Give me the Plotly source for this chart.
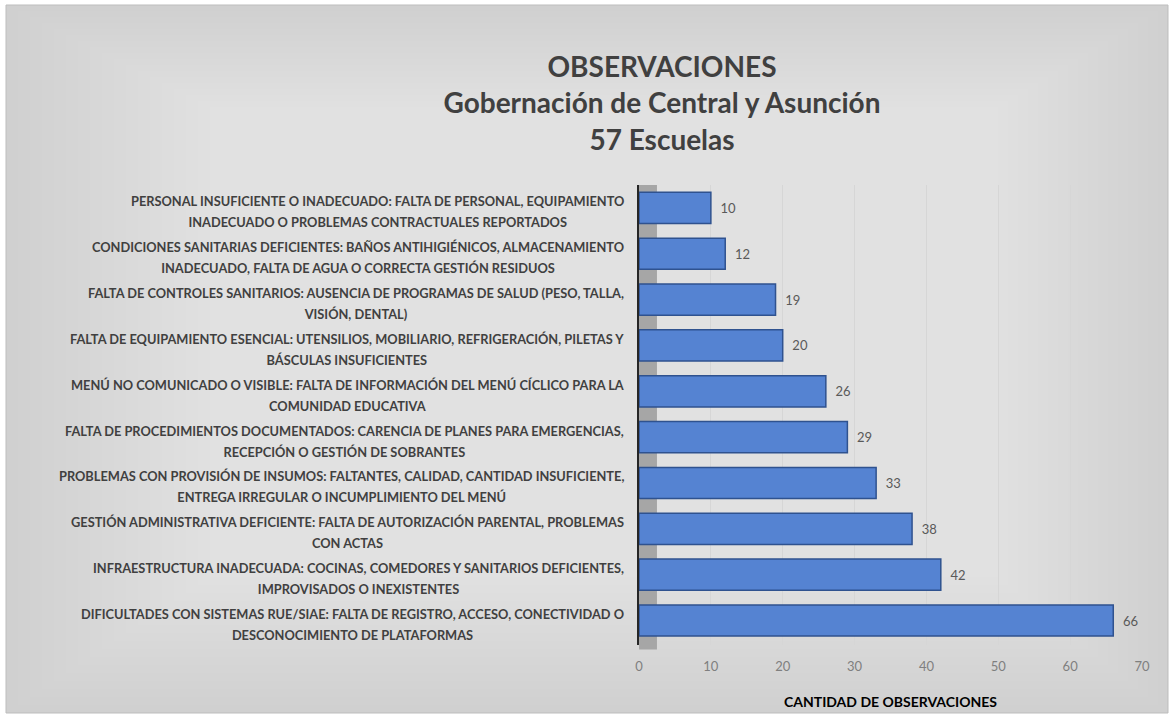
import plotly.graph_objects as go

# categories (bottom -> top, as plotted)
categorias = [
    "DIFICULTADES CON SISTEMAS RUE/SIAE: FALTA DE REGISTRO, ACCESO, CONECTIVIDAD O<br>DESCONOCIMIENTO DE PLATAFORMAS",
    "INFRAESTRUCTURA INADECUADA: COCINAS, COMEDORES Y SANITARIOS DEFICIENTES,<br>IMPROVISADOS O INEXISTENTES",
    "GESTIÓN ADMINISTRATIVA DEFICIENTE: FALTA DE AUTORIZACIÓN PARENTAL, PROBLEMAS<br>CON ACTAS",
    "PROBLEMAS CON PROVISIÓN DE INSUMOS: FALTANTES, CALIDAD, CANTIDAD INSUFICIENTE,<br>ENTREGA IRREGULAR O INCUMPLIMIENTO DEL MENÚ",
    "FALTA DE PROCEDIMIENTOS DOCUMENTADOS: CARENCIA DE PLANES PARA EMERGENCIAS,<br>RECEPCIÓN O GESTIÓN DE SOBRANTES",
    "MENÚ NO COMUNICADO O VISIBLE: FALTA DE INFORMACIÓN DEL MENÚ CÍCLICO PARA LA<br>COMUNIDAD EDUCATIVA",
    "FALTA DE EQUIPAMIENTO ESENCIAL: UTENSILIOS, MOBILIARIO, REFRIGERACIÓN, PILETAS Y<br>BÁSCULAS INSUFICIENTES",
    "FALTA DE CONTROLES SANITARIOS: AUSENCIA DE PROGRAMAS DE SALUD (PESO, TALLA,<br>VISIÓN, DENTAL)",
    "CONDICIONES SANITARIAS DEFICIENTES: BAÑOS ANTIHIGIÉNICOS, ALMACENAMIENTO<br>INADECUADO, FALTA DE AGUA O CORRECTA GESTIÓN RESIDUOS",
    "PERSONAL INSUFICIENTE O INADECUADO: FALTA DE PERSONAL, EQUIPAMIENTO<br>INADECUADO O PROBLEMAS CONTRACTUALES REPORTADOS",
]
cantidades = [66, 42, 38, 33, 29, 26, 20, 19, 12, 10]
x_ticks = [0, 10, 20, 30, 40, 50, 60, 70]

titulo = "OBSERVACIONES<br>Gobernación de Central y Asunción<br>57 Escuelas"
titulo_x = "CANTIDAD DE OBSERVACIONES"

FONT = "Lato, 'Open Sans', sans-serif"
W, H = 1170, 718
ML, MR, MT, MB = 639, 28, 185, 73


def px_to_paper(x, y):
    return (x - ML) / (W - ML - MR), (H - MB - y) / (H - MT - MB)


fig = go.Figure()

fig.add_trace(go.Bar(
    x=cantidades,
    y=categorias,
    orientation="h",
    marker=dict(color="#5583d2", line=dict(color="#2f528f", width=1.5)),
    text=cantidades,
    texttemplate="  %{text}",
    textposition="outside",
    textfont=dict(family=FONT, size=13, color="#595959"),
    cliponaxis=False,
))

# category labels: centred lines, wider line spacing than plotly's default
def label_html(c):
    return "<br>".join(
        f"<span style='font-size:12.8px'>{line}</span>" for line in c.split("<br>")
    )


annotations = [
    dict(
        x=0, y=c, xref="x", yref="y",
        text=label_html(c), showarrow=False,
        xanchor="right", yanchor="middle", align="center",
        xshift=-13, yshift=-4,
        font=dict(family=FONT, size=16, color="#404040", weight="bold"),
    )
    for c in categorias
]

# background: white frame, grey card, soft radial highlight
shapes = []
x0, y1 = px_to_paper(0, 0)
x1, y0 = px_to_paper(W, H)
shapes.append(dict(type="rect", xref="paper", yref="paper", layer="below",
                   x0=x0, x1=x1, y0=y0, y1=y1,
                   fillcolor="white", line=dict(width=0)))
cx0, cy1 = px_to_paper(6, 5)
cx1, cy0 = px_to_paper(W - 2, H - 5)
shapes.append(dict(type="rect", xref="paper", yref="paper", layer="below",
                   x0=cx0, x1=cx1, y0=cy0, y1=cy1,
                   fillcolor="#d0d0d0", line=dict(color="#bdbdbd", width=1)))
for k in range(1, 41):
    gx0, gy1 = px_to_paper(6 + 12 * k, 5 + 6 * k)
    gx1, gy0 = px_to_paper(W - 2 - 10 * k, H - 5 - 8 * k)
    shapes.append(dict(type="rect", xref="paper", yref="paper", layer="below",
                       x0=gx0, x1=gx1, y0=gy0, y1=gy1,
                       fillcolor="white", opacity=0.03, line=dict(width=0)))
# 3D side wall
shapes.append(dict(
    type="rect", xref="x", yref="paper", layer="below",
    x0=0, x1=2.5, y0=-0.01, y1=1.0,
    fillcolor="#a6a6a6", line=dict(width=0),
))

fig.update_layout(
    width=W, height=H,
    paper_bgcolor="white",
    plot_bgcolor="rgba(0,0,0,0)",
    showlegend=False,
    bargap=0.32,
    title=dict(
        text=titulo,
        x=662 / W, xanchor="center",
        y=1 - 77 / H, yref="container", yanchor="top",
        font=dict(family=FONT, size=28, color="#404040", weight="bold"),
    ),
    xaxis=dict(
        range=[0, 70],
        tickvals=x_ticks,
        showgrid=True, gridcolor="#d6d6d6", gridwidth=1,
        zeroline=False,
        showline=False,
        tickfont=dict(family=FONT, size=13, color="#7f7f7f"),
        ticks="outside", ticklen=9, tickcolor="rgba(0,0,0,0)",
        title=dict(text=titulo_x, standoff=24,
                   font=dict(family=FONT, size=14, color="#000000", weight="bold")),
    ),
    yaxis=dict(
        showticklabels=False,
        showgrid=False,
        showline=True, linecolor="#262626", linewidth=2,
        ticks="",
    ),
    annotations=annotations,
    shapes=shapes,
    margin=dict(l=ML, r=MR, t=MT, b=MB, pad=0),
)

fig.write_html(
    "out.html",
    config={"displayModeBar": False},
    post_script="document.body.style.margin='0';",
)
